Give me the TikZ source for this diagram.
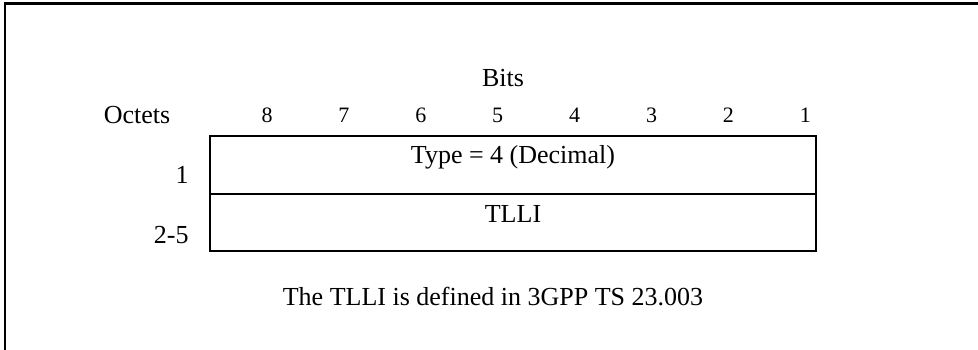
\documentclass[tikz,border=0pt]{standalone}
\usepackage{fontspec}
\setmainfont{Liberation Serif}

\begin{document}
\begin{tikzpicture}[x=0.5pt,y=-0.5pt,node distance=38.45pt,
    txt/.style={inner sep=0pt,font=\fontsize{13}{15}\selectfont},
    bit/.style={inner sep=0pt,font=\fontsize{11}{13}\selectfont},
    row/.style={draw,line width=0.8pt,rectangle,inner sep=0pt,minimum width=303pt}]

            \useasboundingbox (0,0) rectangle (978,349);
            \draw[line width=1.4pt] (5,360) -- (5,3.5) -- (990,3.5);

            \node[txt] (bits) at (503,78) {Bits};
            \node[txt] (oct) at (137,115) {Octets};

            \node[bit] (b8) at (267,115) {8};
            \node[bit] (b7) [right of = b8] {7};
            \node[bit] (b6) [right of = b7] {6};
            \node[bit] (b5) [right of = b6] {5};
            \node[bit] (b4) [right of = b5] {4};
            \node[bit] (b3) [right of = b4] {3};
            \node[bit] (b2) [right of = b3] {2};
            \node[bit] (b1) [right of = b2] {1};

            \node[row, minimum height=29pt] (r1) at (513,165) {};
            \node[row, minimum height=28.5pt] (r2) at (513,222.5) {};

            \node[txt] (type) at (513,157) {Type = 4 (Decimal)};
            \node[txt] (tlli) at (513,214) {TLLI};

            \node[txt, anchor=east] (o1) at (189,175) {1};
            \node[txt, anchor=east] (o2) at (189,235) {2-5};

            \node[txt] (note) at (493,297) {The TLLI is defined in 3GPP TS 23.003};
        \end{tikzpicture}
\end{document}
